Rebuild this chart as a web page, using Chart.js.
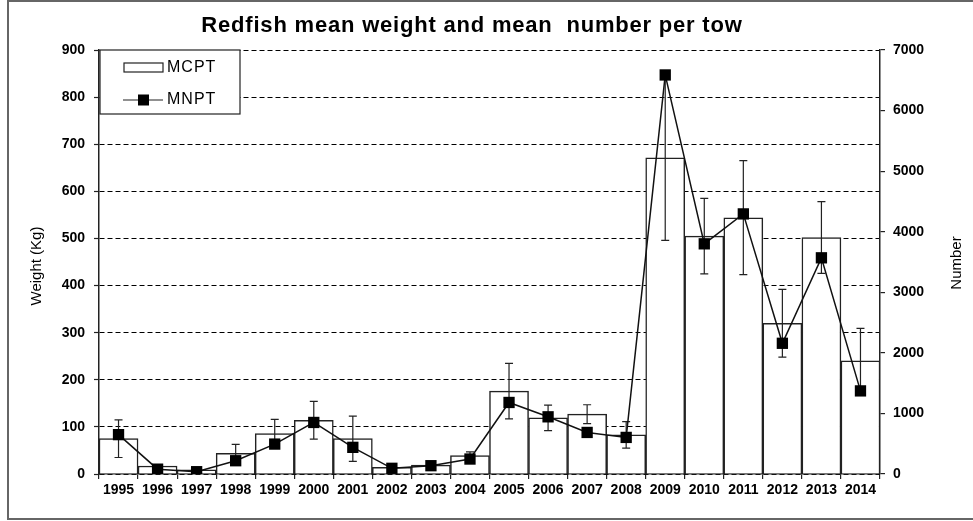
<!DOCTYPE html>
<html>
<head>
<meta charset="utf-8">
<script src="https://cdn.jsdelivr.net/npm/chart.js@4.4.1/dist/chart.umd.min.js"></script>
<style>
body { margin: 0; background: #fff; }
canvas { display: block; }
</style>
</head>
<body>
<canvas id="graphCanvas" width="973" height="521"></canvas>
<script>
// data
var years = ['1995', '1996', '1997', '1998', '1999', '2000', '2001', '2002', '2003', '2004',
             '2005', '2006', '2007', '2008', '2009', '2010', '2011', '2012', '2013', '2014'];
var mcpt = [75, 17, 9, 44, 86, 114, 75, 14, 19, 39, 176, 119, 127, 83, 671, 505, 544, 320, 502, 240];
var mcptErr = [40, 0, 0, 19, 30, 40, 48, 0, 0, 8, 59, 27, 20, 28, 175, 80, 121, 72, 76, 69];
var mnpt = [650, 80, 38, 219, 494, 851, 440, 94, 137, 247, 1181, 944, 686, 604, 6588, 3800, 4294, 2158, 3569, 1372];
var weightMax = 900, weightStep = 100;
var numberMax = 7000, numberStep = 1000;

var axisColor = '#222';
var tickFont = { family: '"Liberation Sans", Arial, sans-serif', size: 14, weight: 'bold' };

// white page + grey frame
var framePlugin = {
    id: 'frame',
    beforeDraw: function(chart) {
        var ctx = chart.ctx;
        ctx.save();
        ctx.fillStyle = '#fff';
        ctx.fillRect(0, 0, chart.width, chart.height);
        ctx.strokeStyle = '#666';
        ctx.lineWidth = 2;
        ctx.strokeRect(8, 1, chart.width + 10, 518);
        ctx.restore();
    }
};

// error bars on the MCPT bars
var errorBarPlugin = {
    id: 'errorBars',
    afterDatasetDraw: function(chart, args) {
        if (args.index !== 0) return;
        var ctx = chart.ctx;
        var x = chart.scales.x, y = chart.scales.y;
        ctx.save();
        ctx.strokeStyle = '#222';
        ctx.lineWidth = 1.2;
        for (var i = 0; i < mcpt.length; i++) {
            if (!mcptErr[i]) continue;
            var px = x.getPixelForValue(i);
            var top = y.getPixelForValue(mcpt[i] + mcptErr[i]);
            var bot = y.getPixelForValue(Math.max(0, mcpt[i] - mcptErr[i]));
            ctx.beginPath();
            ctx.moveTo(px, top); ctx.lineTo(px, bot);
            ctx.moveTo(px - 4, top); ctx.lineTo(px + 4, top);
            ctx.moveTo(px - 4, bot); ctx.lineTo(px + 4, bot);
            ctx.stroke();
        }
        ctx.restore();
    }
};

// title, axis titles, legend box
var textPlugin = {
    id: 'texts',
    afterDraw: function(chart) {
        var ctx = chart.ctx;
        ctx.save();
        ctx.fillStyle = '#000';
        ctx.textAlign = 'center';
        ctx.textBaseline = 'middle';
        ctx.font = 'bold 22px "Liberation Sans", Arial, sans-serif';
        ctx.letterSpacing = '0.8px';
        ctx.fillText('Redfish mean weight and mean  number per tow', 472, 26);
        ctx.letterSpacing = '0px';

        ctx.font = '15px "Liberation Sans", Arial, sans-serif';
        ctx.save();
        ctx.translate(37, 266);
        ctx.rotate(-Math.PI / 2);
        ctx.fillText('Weight (Kg)', 0, 0);
        ctx.restore();
        ctx.save();
        ctx.translate(957, 263);
        ctx.rotate(-Math.PI / 2);
        ctx.fillText('Number', 0, 0);
        ctx.restore();

        // legend
        ctx.fillStyle = '#fff';
        ctx.fillRect(100, 50, 140, 64);
        ctx.strokeStyle = '#222';
        ctx.lineWidth = 1.2;
        ctx.strokeRect(100, 50, 140, 64);
        ctx.strokeRect(124, 63, 39, 9);
        ctx.beginPath();
        ctx.moveTo(123, 100); ctx.lineTo(163, 100);
        ctx.stroke();
        ctx.fillStyle = '#000';
        ctx.fillRect(138, 94.5, 11, 11);
        ctx.textAlign = 'left';
        ctx.font = '16px "Liberation Sans", Arial, sans-serif';
        ctx.letterSpacing = '1px';
        ctx.fillText('MCPT', 167, 68);
        ctx.fillText('MNPT', 167, 100);
        ctx.restore();
    }
};

new Chart(document.getElementById('graphCanvas'), {
    type: 'bar',
    data: {
        labels: years,
        datasets: [
            {
                label: 'MCPT',
                data: mcpt,
                yAxisID: 'y',
                backgroundColor: '#fff',
                borderColor: '#222',
                borderWidth: 1.5,
                categoryPercentage: 1,
                barPercentage: 1,
                order: 2
            },
            {
                label: 'MNPT',
                type: 'line',
                data: mnpt,
                yAxisID: 'y1',
                borderColor: '#111',
                borderWidth: 1.5,
                tension: 0,
                pointStyle: 'rect',
                pointRadius: 8,
                pointBackgroundColor: '#000',
                pointBorderColor: '#000',
                pointBorderWidth: 0,
                order: 1
            }
        ]
    },
    options: {
        responsive: false,
        animation: false,
        events: [],
        layout: { padding: { top: 50, left: 20, right: 0, bottom: 0 } },
        plugins: {
            legend: { display: false },
            title: { display: false },
            tooltip: { enabled: false }
        },
        scales: {
            x: {
                type: 'category',
                offset: true,
                grid: { display: true, drawOnChartArea: false, offset: true, tickLength: 5, color: axisColor, lineWidth: 1.2 },
                border: { color: axisColor, width: 1.5 },
                ticks: { font: tickFont, color: '#000', padding: 3, maxRotation: 0, autoSkip: false },
                afterFit: function(scale) { scale.height = 47; }
            },
            y: {
                position: 'left',
                min: 0,
                max: weightMax,
                ticks: { stepSize: weightStep, font: tickFont, color: '#000', padding: 9,
                    callback: function(value) { return String(value); } },
                grid: { color: '#000', lineWidth: 1, tickLength: 5, tickColor: axisColor, tickWidth: 1.2, tickBorderDash: [] },
                border: { color: axisColor, width: 1.5, dash: [5, 3] },
                afterFit: function(scale) { scale.width = 79; }
            },
            y1: {
                position: 'right',
                min: 0,
                max: numberMax,
                ticks: { stepSize: numberStep, font: tickFont, color: '#000', padding: 8,
                    callback: function(value) { return String(value); } },
                grid: { drawOnChartArea: false, tickLength: 5, color: axisColor, lineWidth: 1.2 },
                border: { color: axisColor, width: 1.5 },
                afterFit: function(scale) { scale.width = 93; }
            }
        }
    },
    plugins: [framePlugin, errorBarPlugin, textPlugin]
});
</script>
</body>
</html>
